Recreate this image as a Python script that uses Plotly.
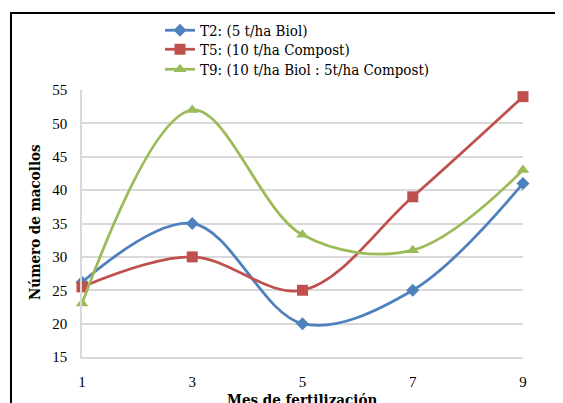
import plotly.graph_objects as go

meses = [1, 3, 5, 7, 9]
t2 = [26.2, 35, 20, 25, 41]
t5 = [25.5, 30, 25, 39, 54]
t9 = [23, 52, 33.3, 31, 43]

names = ["T2: (5 t/ha Biol)", "T5: (10 t/ha Compost)", "T9: (10 t/ha Biol : 5t/ha Compost)"]
colors = ["#4F81BD", "#C0504D", "#9BBB59"]
symbols = ["diamond", "square", "triangle-up"]
sizes = [10, 11, 11]
series = [t2, t5, t9]
legend_ids = ["legend", "legend2", "legend3"]
legend_tops = [14, 33, 53]

FONT = "Liberation Serif"
FONT2 = "DejaVu Serif Condensed, Liberation Serif, serif"
SH = 8  # page body offset

fig = go.Figure()
for name, ys, c, s, sz, lg in zip(names, series, colors, symbols, sizes, legend_ids):
    fig.add_trace(go.Scatter(
        x=meses, y=ys, name=name, mode="lines+markers",
        line=dict(color=c, width=2.8, shape="spline", smoothing=1.0),
        marker=dict(symbol=s, size=sz, color=c),
        cliponaxis=False, legend=lg,
    ))

W, H = 563, 403
L, T = 82 - SH, 90 - SH
R = W - (523 - SH)
B = H - (357 - SH)
pw, ph = W - L - R, H - T - B

def px(xs):
    return (xs - SH - L) / pw

def py(ys):
    return (H - B - (ys - SH)) / ph

def cx(xs):
    return (xs - SH) / W

def cy(ys):
    return 1 - (ys - SH) / H

legends = {}
for lg, top in zip(legend_ids, legend_tops):
    legends[lg] = dict(
        x=cx(160), y=cy(top), xref="container", yref="container",
        xanchor="left", yanchor="top",
        font=dict(family=FONT2, size=15, color="#000000"),
        bgcolor="rgba(0,0,0,0)", itemwidth=30,
    )

fig.update_layout(
    width=W, height=H,
    margin=dict(l=L, r=R, t=T, b=B, autoexpand=False),
    paper_bgcolor="white", plot_bgcolor="white",
    font=dict(family=FONT, size=15, color="#000000"),
    showlegend=True,
    xaxis=dict(
        range=[1, 9], tickvals=meses, ticktext=[str(m) for m in meses],
        showgrid=False, zeroline=False, showline=True, linecolor="#D9D9D9", linewidth=1.5,
        ticks="", ticklabelstandoff=10,
        tickfont=dict(family=FONT, size=15, color="#000000"),
    ),
    yaxis=dict(
        range=[15, 55], tickvals=[15, 20, 25, 30, 35, 40, 45, 50, 55],
        showgrid=True, gridcolor="#D9D9D9", gridwidth=1.5,
        zeroline=False, showline=True, linecolor="#D9D9D9", linewidth=1.5,
        ticks="", ticklabelstandoff=10,
        tickfont=dict(family=FONT, size=15, color="#000000"),
    ),
    shapes=[dict(
        type="rect", xref="paper", yref="paper",
        x0=px(11), x1=px(620), y0=py(460), y1=py(13),
        line=dict(color="#000000", width=2), fillcolor="rgba(0,0,0,0)", layer="below",
    )],
    annotations=[
        dict(text="<b>Número de macollos</b>", textangle=-90, xref="paper", yref="paper",
             x=px(35), y=py(222), showarrow=False, xanchor="center", yanchor="middle",
             font=dict(family=FONT2, size=15, color="#000000")),
        dict(text="<b>Mes de fertilización</b>", xref="paper", yref="paper",
             x=px(302), y=py(400), showarrow=False, xanchor="center", yanchor="middle",
             font=dict(family=FONT2, size=15, color="#000000")),
    ],
    **legends,
)

fig.write_html("out.html")
